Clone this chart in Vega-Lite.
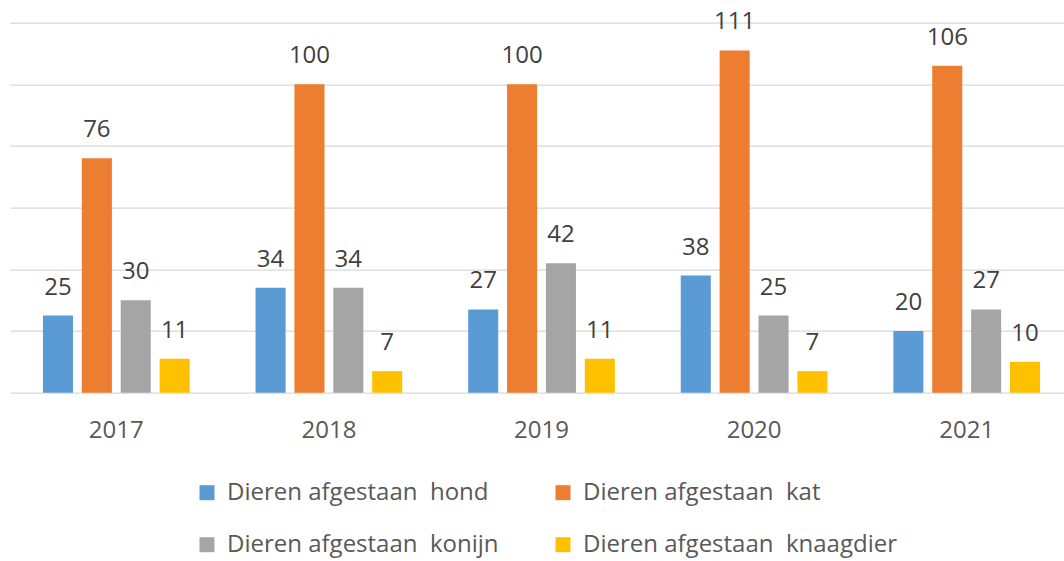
{
  "$schema": "https://vega.github.io/schema/vega-lite/v6.json",
  "width": 1063,
  "height": 370,
  "autosize": "none",
  "padding": {"left": 10, "top": 22.7, "right": 0, "bottom": 168.3},
  "background": "white",
  "config": {"view": {"stroke": null}, "font": "Open Sans"},
  "data": {
    "values": [
      {"jaar": "2017", "soort": "Dieren afgestaan\u00a0 hond", "aantal": 25},
      {"jaar": "2017", "soort": "Dieren afgestaan\u00a0 kat", "aantal": 76},
      {"jaar": "2017", "soort": "Dieren afgestaan\u00a0 konijn", "aantal": 30},
      {"jaar": "2017", "soort": "Dieren afgestaan\u00a0 knaagdier", "aantal": 11},
      {"jaar": "2018", "soort": "Dieren afgestaan\u00a0 hond", "aantal": 34},
      {"jaar": "2018", "soort": "Dieren afgestaan\u00a0 kat", "aantal": 100},
      {"jaar": "2018", "soort": "Dieren afgestaan\u00a0 konijn", "aantal": 34},
      {"jaar": "2018", "soort": "Dieren afgestaan\u00a0 knaagdier", "aantal": 7},
      {"jaar": "2019", "soort": "Dieren afgestaan\u00a0 hond", "aantal": 27},
      {"jaar": "2019", "soort": "Dieren afgestaan\u00a0 kat", "aantal": 100},
      {"jaar": "2019", "soort": "Dieren afgestaan\u00a0 konijn", "aantal": 42},
      {"jaar": "2019", "soort": "Dieren afgestaan\u00a0 knaagdier", "aantal": 11},
      {"jaar": "2020", "soort": "Dieren afgestaan\u00a0 hond", "aantal": 38},
      {"jaar": "2020", "soort": "Dieren afgestaan\u00a0 kat", "aantal": 111},
      {"jaar": "2020", "soort": "Dieren afgestaan\u00a0 konijn", "aantal": 25},
      {"jaar": "2020", "soort": "Dieren afgestaan\u00a0 knaagdier", "aantal": 7},
      {"jaar": "2021", "soort": "Dieren afgestaan\u00a0 hond", "aantal": 20},
      {"jaar": "2021", "soort": "Dieren afgestaan\u00a0 kat", "aantal": 106},
      {"jaar": "2021", "soort": "Dieren afgestaan\u00a0 konijn", "aantal": 27},
      {"jaar": "2021", "soort": "Dieren afgestaan\u00a0 knaagdier", "aantal": 10}
    ]
  },
  "encoding": {
    "x": {
      "field": "jaar",
      "type": "nominal",
      "scale": {"paddingInner": 0.31, "paddingOuter": 0.155},
      "axis": {
        "title": null,
        "labelAngle": 0,
        "domain": false,
        "ticks": false,
        "tickSize": 0,
        "labelFontSize": 24,
        "labelColor": "#595959",
        "labelBaseline": "alphabetic",
        "labelPadding": 45
      }
    },
    "xOffset": {
      "field": "soort",
      "type": "nominal",
      "sort": ["Dieren afgestaan\u00a0 hond", "Dieren afgestaan\u00a0 kat", "Dieren afgestaan\u00a0 konijn", "Dieren afgestaan\u00a0 knaagdier"],
      "scale": {"paddingInner": 0.227, "paddingOuter": 0}
    },
    "y": {
      "field": "aantal",
      "type": "quantitative",
      "scale": {"domain": [0, 120], "nice": false},
      "axis": {
        "title": null,
        "labels": false,
        "ticks": false,
        "domain": false,
        "grid": true,
        "gridColor": "#D9D9D9",
        "gridWidth": 1.3,
        "values": [0, 20, 40, 60, 80, 100, 120]
      }
    }
  },
  "layer": [
    {
      "mark": {"type": "bar"},
      "encoding": {
        "color": {
          "field": "soort",
          "type": "nominal",
          "sort": ["Dieren afgestaan\u00a0 hond", "Dieren afgestaan\u00a0 kat", "Dieren afgestaan\u00a0 konijn", "Dieren afgestaan\u00a0 knaagdier"],
          "scale": {
            "domain": ["Dieren afgestaan\u00a0 hond", "Dieren afgestaan\u00a0 kat", "Dieren afgestaan\u00a0 konijn", "Dieren afgestaan\u00a0 knaagdier"],
            "range": ["#5B9BD5", "#ED7D31", "#A5A5A5", "#FFC000"]
          },
          "legend": {
            "orient": "none",
            "legendX": 185,
            "legendY": 458,
            "columns": 2,
            "direction": "horizontal",
            "title": null,
            "padding": 0,
            "symbolType": "square",
            "symbolSize": 225,
            "symbolStrokeWidth": 0,
            "labelFontSize": 24,
            "labelColor": "#595959",
            "labelOffset": 8,
            "columnPadding": 52,
            "rowPadding": 28,
            "labelLimit": 400
          }
        }
      }
    },
    {
      "mark": {"type": "text", "baseline": "alphabetic", "dy": -21, "fontSize": 24, "color": "#404040"},
      "encoding": {"text": {"field": "aantal", "type": "quantitative"}}
    }
  ]
}
